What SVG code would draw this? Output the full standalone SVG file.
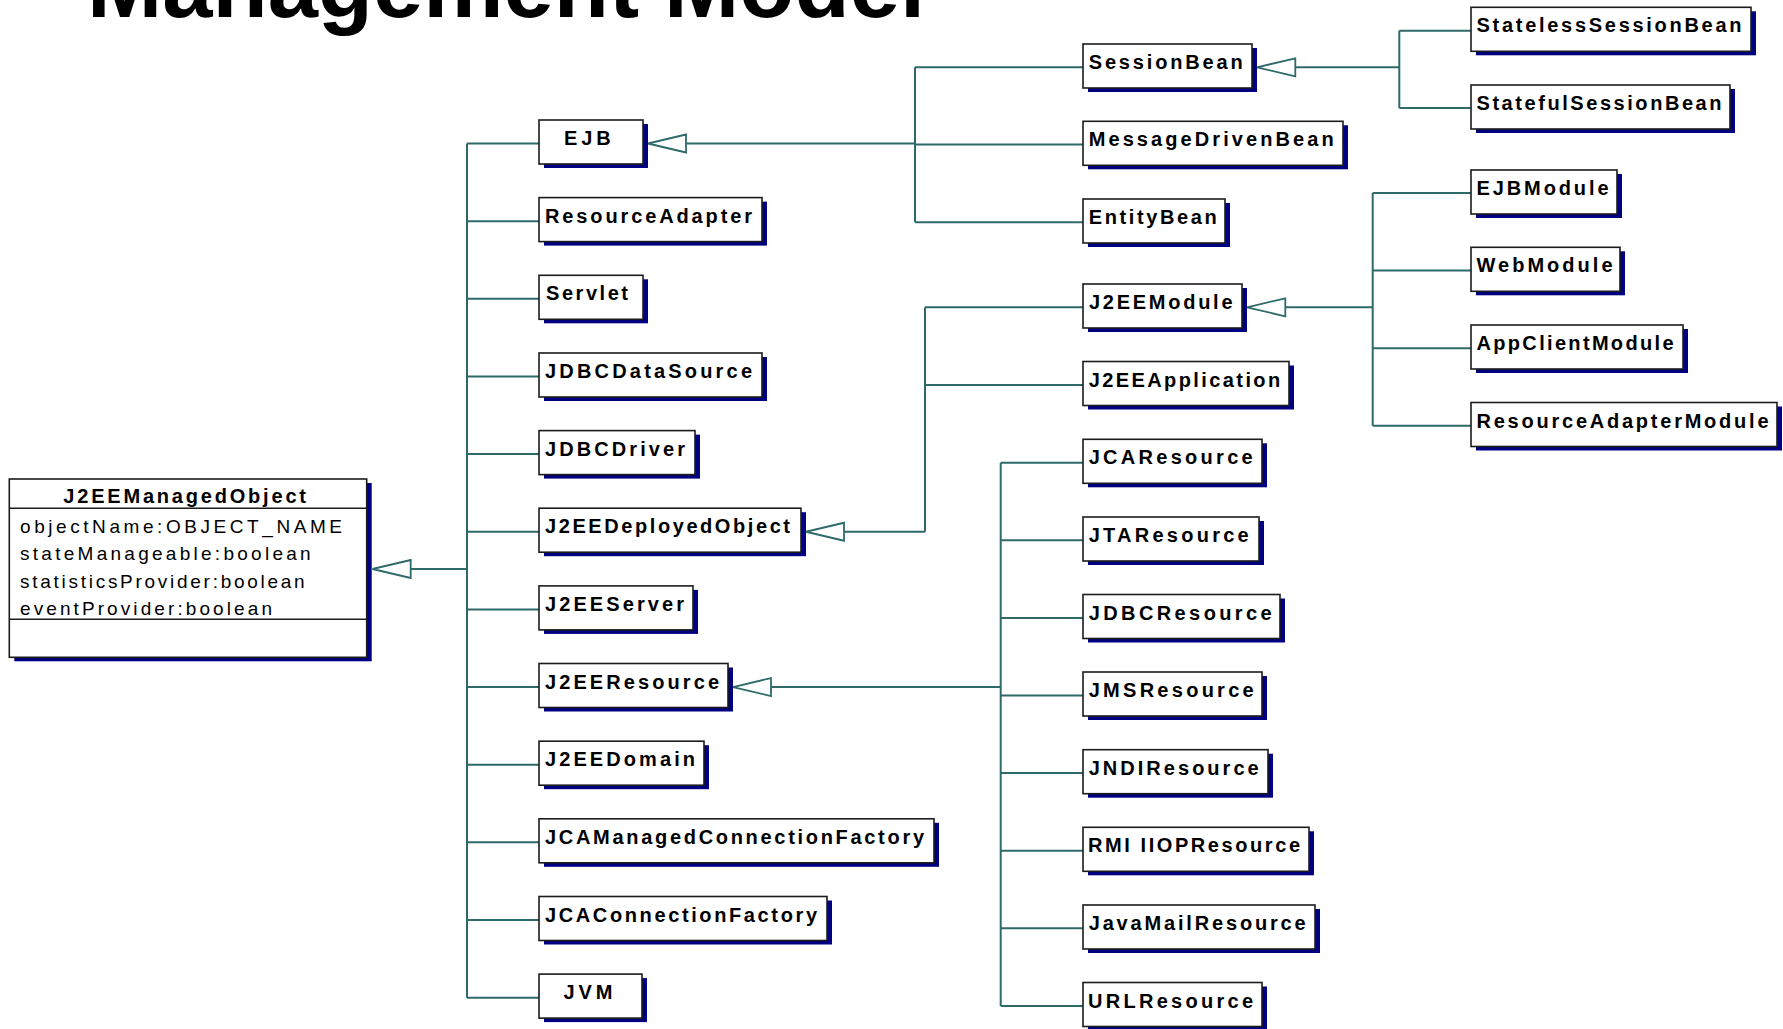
<svg xmlns="http://www.w3.org/2000/svg" width="1783" height="1029" viewBox="0 0 1783 1029">
  <style>
    .n .s { fill: #000080; }
    .n .b { fill: #ffffff; stroke: #1c1c1c; stroke-width: 1.6; }
    .n .d { stroke: #1c1c1c; stroke-width: 1.6; }
    .n text { font-family: "Liberation Sans", Arial, sans-serif; font-weight: bold; font-size: 20px; fill: #000000; }
    .n text.attr { font-weight: normal; font-size: 19px; }
    .c path { stroke: #2f6a6a; stroke-width: 2; fill: none; }
    .c polygon { stroke: #2f6a6a; stroke-width: 1.8; fill: #ffffff; stroke-linejoin: miter; }
    .title { font-family: "Liberation Sans", Arial, sans-serif; font-weight: bold; font-size: 90px; fill: #000000; }
  </style>

  <rect width="1783" height="1029" fill="#ffffff"/>

  <text class="title" x="87" y="17" textLength="838" lengthAdjust="spacingAndGlyphs">Management Model</text>

  <!-- generalization connectors -->
  <g id="connectors" class="c">
    <!-- J2EEManagedObject subclasses -->
    <path d="M467 143.5 V997.65"/>
    <path d="M410.7 569 H467"/>
    <path d="M467 143.5 H539 M467 221.15 H539 M467 298.8 H539 M467 376.45 H539 M467 454.1 H539 M467 531.75 H539 M467 609.4 H539 M467 687.05 H539 M467 764.7 H539 M467 842.35 H539 M467 920 H539 M467 997.65 H539"/>
    <polygon points="372.5,569 410.7,560 410.7,578"/>

    <!-- EJB subclasses -->
    <path d="M686 143.5 H915 M915 67.3 V222.3 M915 67.3 H1083 M915 144.5 H1083 M915 222.3 H1083"/>
    <polygon points="648,143.5 686,134.5 686,152.5"/>

    <!-- SessionBean subclasses -->
    <path d="M1295.3 67.3 H1399.3 M1399.3 30.7 V108 M1399.3 30.7 H1471 M1399.3 108 H1471"/>
    <polygon points="1257,67.3 1295.3,58.3 1295.3,76.3"/>

    <!-- J2EEDeployedObject subclasses -->
    <path d="M844 531.75 H925 M925 307.3 V531.75 M925 307.3 H1083 M925 385 H1083"/>
    <polygon points="806,531.75 844,522.75 844,540.75"/>

    <!-- J2EEModule subclasses -->
    <path d="M1285.3 307.3 H1372.7 M1372.7 193 V425.8 M1372.7 193 H1471 M1372.7 270.6 H1471 M1372.7 348.2 H1471 M1372.7 425.8 H1471"/>
    <polygon points="1247,307.3 1285.3,298.3 1285.3,316.3"/>

    <!-- J2EEResource subclasses -->
    <path d="M771 687.05 H1000.7 M1000.7 462.7 V1005.9 M1000.7 462.7 H1083 M1000.7 540.3 H1083 M1000.7 617.9 H1083 M1000.7 695.5 H1083 M1000.7 773.1 H1083 M1000.7 850.7 H1083 M1000.7 928.3 H1083 M1000.7 1005.9 H1083"/>
    <polygon points="733,687.05 771,678.05 771,696.05"/>
  </g>

  <!-- root class with attributes -->
  <g id="J2EEManagedObject" class="n">
    <rect class="s" x="14.3" y="483" width="357.4" height="178.3"/>
    <rect class="b" x="9.3" y="479" width="357.4" height="178.3"/>
    <path class="d" d="M9.3 508.3 H366.7 M9.3 619.3 H366.7"/>
    <text x="63.3" y="503.3" textLength="242.7" lengthAdjust="spacing">J2EEManagedObject</text>
    <text class="attr" x="20" y="532.7" textLength="322" lengthAdjust="spacing">objectName:OBJECT_NAME</text>
    <text class="attr" x="20" y="560" textLength="290.7" lengthAdjust="spacing">stateManageable:boolean</text>
    <text class="attr" x="20" y="588" textLength="284.7" lengthAdjust="spacing">statisticsProvider:boolean</text>
    <text class="attr" x="20" y="615" textLength="252" lengthAdjust="spacing">eventProvider:boolean</text>
  </g>

  <!-- first level subclasses -->
  <g id="EJB" class="n"><rect class="s" x="544" y="124" width="104" height="44"/><rect class="b" x="539" y="120" width="104" height="44"/><text x="564" y="145" textLength="46.7" lengthAdjust="spacing">EJB</text></g>
  <g id="ResourceAdapter" class="n"><rect class="s" x="544" y="201.6" width="223" height="44"/><rect class="b" x="539" y="197.6" width="223" height="44"/><text x="545" y="222.6" textLength="207" lengthAdjust="spacing">ResourceAdapter</text></g>
  <g id="Servlet" class="n"><rect class="s" x="544" y="279.3" width="104" height="44"/><rect class="b" x="539" y="275.3" width="104" height="44"/><text x="546" y="300.3" textLength="82" lengthAdjust="spacing">Servlet</text></g>
  <g id="JDBCDataSource" class="n"><rect class="s" x="544" y="357" width="223" height="44"/><rect class="b" x="539" y="353" width="223" height="44"/><text x="545" y="378" textLength="207" lengthAdjust="spacing">JDBCDataSource</text></g>
  <g id="JDBCDriver" class="n"><rect class="s" x="544" y="434.6" width="156" height="44"/><rect class="b" x="539" y="430.6" width="156" height="44"/><text x="545" y="455.6" textLength="140" lengthAdjust="spacing">JDBCDriver</text></g>
  <g id="J2EEDeployedObject" class="n"><rect class="s" x="544" y="512.2" width="262" height="44"/><rect class="b" x="539" y="508.2" width="262" height="44"/><text x="545" y="533.2" textLength="245" lengthAdjust="spacing">J2EEDeployedObject</text></g>
  <g id="J2EEServer" class="n"><rect class="s" x="544" y="589.9" width="154" height="44"/><rect class="b" x="539" y="585.9" width="154" height="44"/><text x="545" y="610.9" textLength="139" lengthAdjust="spacing">J2EEServer</text></g>
  <g id="J2EEResource" class="n"><rect class="s" x="544" y="667.5" width="189" height="44"/><rect class="b" x="539" y="663.5" width="189" height="44"/><text x="545" y="688.5" textLength="174" lengthAdjust="spacing">J2EEResource</text></g>
  <g id="J2EEDomain" class="n"><rect class="s" x="544" y="745.2" width="165" height="44"/><rect class="b" x="539" y="741.2" width="165" height="44"/><text x="545" y="766.2" textLength="150" lengthAdjust="spacing">J2EEDomain</text></g>
  <g id="JCAManagedConnectionFactory" class="n"><rect class="s" x="544" y="822.8" width="395" height="44"/><rect class="b" x="539" y="818.8" width="395" height="44"/><text x="545" y="843.8" textLength="379" lengthAdjust="spacing">JCAManagedConnectionFactory</text></g>
  <g id="JCAConnectionFactory" class="n"><rect class="s" x="544" y="900.5" width="288" height="44"/><rect class="b" x="539" y="896.5" width="288" height="44"/><text x="545" y="921.5" textLength="272" lengthAdjust="spacing">JCAConnectionFactory</text></g>
  <g id="JVM" class="n"><rect class="s" x="544" y="978.1" width="103" height="44"/><rect class="b" x="539" y="974.1" width="103" height="44"/><text x="563.5" y="999.1" textLength="49" lengthAdjust="spacing">JVM</text></g>

  <!-- EJB family -->
  <g id="SessionBean" class="n"><rect class="s" x="1088" y="48" width="169" height="44"/><rect class="b" x="1083" y="44" width="169" height="44"/><text x="1088.7" y="69" textLength="154" lengthAdjust="spacing">SessionBean</text></g>
  <g id="MessageDrivenBean" class="n"><rect class="s" x="1088" y="125.3" width="260" height="44"/><rect class="b" x="1083" y="121.3" width="260" height="44"/><text x="1088.7" y="146.3" textLength="245" lengthAdjust="spacing">MessageDrivenBean</text></g>
  <g id="EntityBean" class="n"><rect class="s" x="1088" y="203" width="142" height="44"/><rect class="b" x="1083" y="199" width="142" height="44"/><text x="1088.7" y="224" textLength="128" lengthAdjust="spacing">EntityBean</text></g>
  <g id="StatelessSessionBean" class="n"><rect class="s" x="1476" y="11.3" width="280" height="44"/><rect class="b" x="1471" y="7.3" width="280" height="44"/><text x="1476.5" y="32.3" textLength="265" lengthAdjust="spacing">StatelessSessionBean</text></g>
  <g id="StatefulSessionBean" class="n"><rect class="s" x="1476" y="89" width="259" height="44"/><rect class="b" x="1471" y="85" width="259" height="44"/><text x="1476.5" y="110" textLength="245" lengthAdjust="spacing">StatefulSessionBean</text></g>

  <!-- deployed objects -->
  <g id="J2EEModule" class="n"><rect class="s" x="1088" y="288" width="159" height="44"/><rect class="b" x="1083" y="284" width="159" height="44"/><text x="1089" y="309" textLength="143.5" lengthAdjust="spacing">J2EEModule</text></g>
  <g id="J2EEApplication" class="n"><rect class="s" x="1088" y="365.5" width="206" height="44"/><rect class="b" x="1083" y="361.5" width="206" height="44"/><text x="1088.7" y="386.5" textLength="191.5" lengthAdjust="spacing">J2EEApplication</text></g>
  <g id="EJBModule" class="n"><rect class="s" x="1476" y="174" width="146" height="44"/><rect class="b" x="1471" y="170" width="146" height="44"/><text x="1476.5" y="195" textLength="132" lengthAdjust="spacing">EJBModule</text></g>
  <g id="WebModule" class="n"><rect class="s" x="1476" y="251.3" width="149" height="44"/><rect class="b" x="1471" y="247.3" width="149" height="44"/><text x="1476.5" y="272.3" textLength="136" lengthAdjust="spacing">WebModule</text></g>
  <g id="AppClientModule" class="n"><rect class="s" x="1476" y="329" width="212" height="44"/><rect class="b" x="1471" y="325" width="212" height="44"/><text x="1476.5" y="350" textLength="197" lengthAdjust="spacing">AppClientModule</text></g>
  <g id="ResourceAdapterModule" class="n"><rect class="s" x="1476" y="406.5" width="306" height="44"/><rect class="b" x="1471" y="402.5" width="306" height="44"/><text x="1476.5" y="427.5" textLength="292" lengthAdjust="spacing">ResourceAdapterModule</text></g>

  <!-- resources -->
  <g id="JCAResource" class="n"><rect class="s" x="1088" y="443.3" width="179" height="44"/><rect class="b" x="1083" y="439.3" width="179" height="44"/><text x="1088.7" y="464.3" textLength="164" lengthAdjust="spacing">JCAResource</text></g>
  <g id="JTAResource" class="n"><rect class="s" x="1088" y="521" width="176" height="44"/><rect class="b" x="1083" y="517" width="176" height="44"/><text x="1088.7" y="542" textLength="160" lengthAdjust="spacing">JTAResource</text></g>
  <g id="JDBCResource" class="n"><rect class="s" x="1088" y="598.5" width="197" height="44"/><rect class="b" x="1083" y="594.5" width="197" height="44"/><text x="1088.7" y="619.5" textLength="183" lengthAdjust="spacing">JDBCResource</text></g>
  <g id="JMSResource" class="n"><rect class="s" x="1088" y="676" width="179" height="44"/><rect class="b" x="1083" y="672" width="179" height="44"/><text x="1088.7" y="697" textLength="165" lengthAdjust="spacing">JMSResource</text></g>
  <g id="JNDIResource" class="n"><rect class="s" x="1088" y="753.7" width="185" height="44"/><rect class="b" x="1083" y="749.7" width="185" height="44"/><text x="1088.7" y="774.7" textLength="170" lengthAdjust="spacing">JNDIResource</text></g>
  <g id="RMI_IIOPResource" class="n"><rect class="s" x="1088" y="831.3" width="226" height="44"/><rect class="b" x="1083" y="827.3" width="226" height="44"/><text x="1088" y="852.3" textLength="212" lengthAdjust="spacing">RMI IIOPResource</text></g>
  <g id="JavaMailResource" class="n"><rect class="s" x="1088" y="909" width="232" height="44"/><rect class="b" x="1083" y="905" width="232" height="44"/><text x="1088.7" y="930" textLength="217" lengthAdjust="spacing">JavaMailResource</text></g>
  <g id="URLResource" class="n"><rect class="s" x="1088" y="986.5" width="179" height="44"/><rect class="b" x="1083" y="982.5" width="179" height="44"/><text x="1088" y="1007.5" textLength="165" lengthAdjust="spacing">URLResource</text></g>
</svg>
